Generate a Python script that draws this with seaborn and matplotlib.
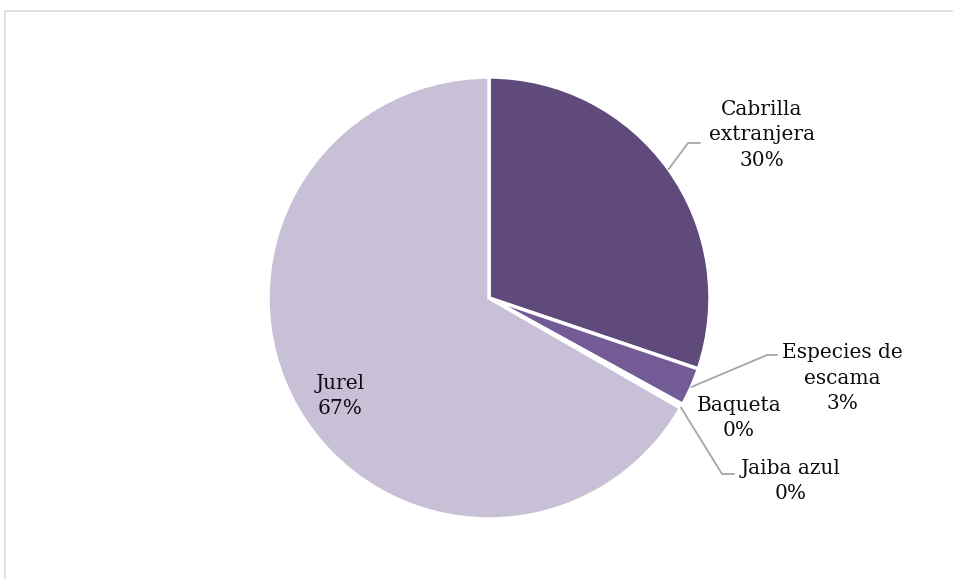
import matplotlib.pyplot as plt
import seaborn as sns
import numpy as np
from matplotlib.patches import Rectangle

# Catch composition by species (share of total)
species = ['Cabrilla\nextranjera', 'Especies de\nescama', 'Baqueta', 'Jaiba azul', 'Jurel']
shares = [30.2, 2.8, 0.2, 0.1, 66.7]
pct_labels = ['30%', '3%', '0%', '0%', '67%']
colors = ['#5F4A7B', '#735B96', '#8E7BAE', '#A99BC2', '#C8C0D7']

sns.set_theme(style='white')
plt.rcParams['font.family'] = ['DejaVu Serif']

W, H = 954, 579
fig = plt.figure(figsize=(W / 100, H / 100), dpi=100)

# chart-area border (runs off the right and bottom edges)
fig.patches.append(Rectangle((5 / W, -0.1), 1.0, (H - 11) / H + 0.1,
                             transform=fig.transFigure, fill=False,
                             edgecolor='#D9D9D9', linewidth=1.2))

cx, cy, r = 489, 298, 221
ax = fig.add_axes([(cx - r) / W, (H - cy - r) / H, 2 * r / W, 2 * r / H])

wedges, _ = ax.pie(shares, colors=colors, startangle=90, counterclock=False,
                   wedgeprops=dict(edgecolor='white', linewidth=2.5))
ax.set_xlim(-1, 1)
ax.set_ylim(-1, 1)
ax.axis('off')


def px(x, y):
    # image pixel -> data coords of the pie axes
    return (x - cx) / r, (cy - y) / r


def edge(w):
    t = np.deg2rad((w.theta1 + w.theta2) / 2)
    return np.cos(t), np.sin(t)


text_kw = dict(ha='center', va='center', fontsize=14.5, color='#0D0D0D',
               linespacing=1.45)
lead_kw = dict(color='#A6A6A6', linewidth=1.3, clip_on=False)

# label positions (pixels) and leader elbows
layout = [
    (762, 135, [(688, 143), (700, 143)]),
    (842, 378, [(767, 355), (777, 355)]),
    (739, 418, None),
    (791, 481, [(722, 474), (734, 474)]),
    (340, 396, None),
]

for w, name, pct, (lx, ly, elbow) in zip(wedges, species, pct_labels, layout):
    tx, ty = px(lx, ly)
    ax.text(tx, ty, f'{name}\n{pct}', **text_kw)
    if elbow:
        ex, ey = edge(w)
        pts = [(ex, ey)] + [px(*p) for p in elbow]
        xs, ys = zip(*pts)
        ax.plot(xs, ys, **lead_kw)

fig.savefig('out.png', dpi=100)
